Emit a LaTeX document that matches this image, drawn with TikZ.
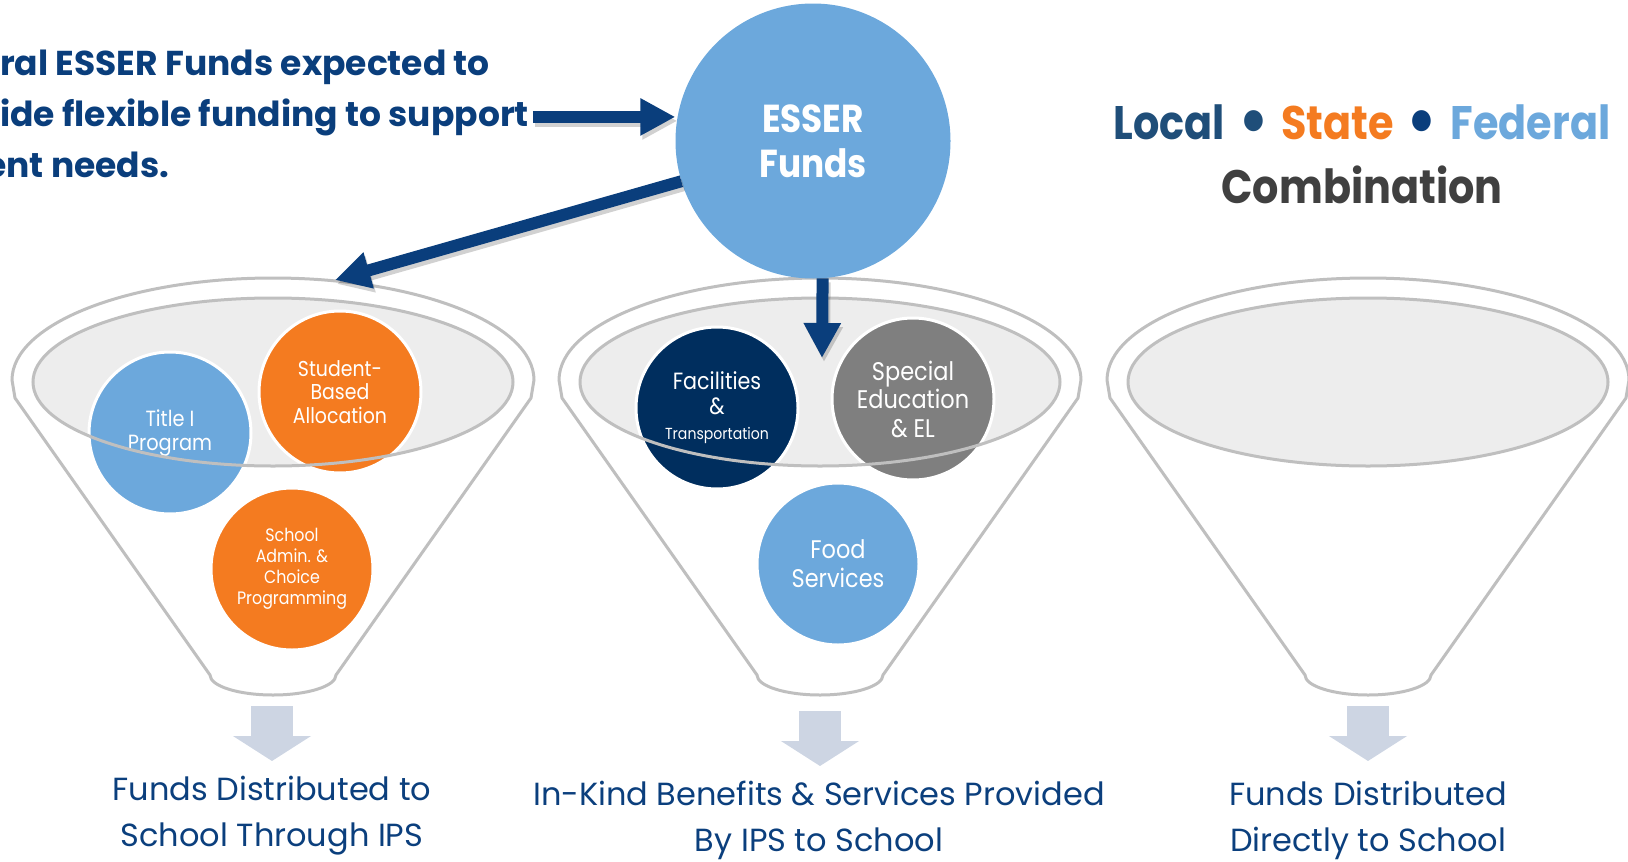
\documentclass[tikz,border=0pt]{standalone}
\usepackage{fontspec}
\setmainfont{Poppins}
\newfontfamily\headfont[FakeStretch=0.88]{Poppins}
\newfontfamily\bubfont[FakeStretch=0.88]{Poppins}
\usetikzlibrary{arrows.meta}
\definecolor{navy}{HTML}{0A3E7C}
\definecolor{txtnavy}{HTML}{0B3F7D}
\definecolor{orng}{HTML}{F47B20}
\definecolor{lblue}{HTML}{6CA8DC}
\definecolor{dnavy}{HTML}{002E5E}
\definecolor{cgray}{HTML}{7F7F7F}
\definecolor{fgray}{HTML}{BFBFBF}
\definecolor{ffill}{HTML}{EDEDED}
\definecolor{sarrow}{HTML}{CDD5E3}
\definecolor{locblue}{HTML}{1F4E79}
\definecolor{combgray}{HTML}{404040}
\newcommand{\bigbul}[1]{\makebox[17pt][c]{\raisebox{-5pt}{\textcolor{#1}{\fontsize{70}{70}\selectfont •}}}}
\tikzset{
  funnelline/.style={draw=fgray, line width=3pt},
  bubble/.style={circle, draw=white, line width=3pt, minimum size=162pt, inner sep=0pt, text=white, align=center},
  bigarrow/.style={draw=navy, line width=12pt, -{Triangle[length=35pt,width=35pt]}},
  arrowshadow/.style={draw=black, opacity=0.18, line width=12pt, -{Triangle[length=35pt,width=35pt]}, transform canvas={shift={(2pt,-4pt)}}},
  downarrow/.style={draw=sarrow, line width=42pt, -{Triangle[length=25pt,width=77pt]}},
  bottomlabel/.style={text=txtnavy, align=center, font=\fontsize{32}{46}\selectfont, inner sep=0pt},
  introtext/.style={anchor=base west, inner sep=0pt, text=navy, font=\bfseries\fontsize{34.5}{40}\selectfont},
}
\begin{document}
\begin{tikzpicture}[x=1pt,y=-1pt]
\useasboundingbox (0,0) rectangle (1628,862);
\clip (0,0) rectangle (1628,862);
% funnels
\foreach \c in {273,820,1368}{
  \draw[funnelline, fill=white] (\c-261,380) arc[start angle=180,end angle=360,x radius=261,y radius=102] -- (\c+258,398) -- (\c+63,675) arc[start angle=0,end angle=180,x radius=63,y radius=20] -- (\c-258,398) -- cycle;
  \fill[ffill] (\c,382) ellipse[x radius=240,y radius=84];
}
% bubbles
\node[bubble, fill=lblue, font=\bubfont\fontsize{22}{24}\selectfont] (title) at (170,433) {Title I\\Program};
\node[bubble, fill=orng, font=\bubfont\fontsize{21.5}{23.5}\selectfont] (sba) at (340,392) {Student-\\Based\\Allocation};
\node[bubble, fill=orng, font=\bubfont\fontsize{18}{21}\selectfont] (admin) at (292,569) {School\\Admin. \&\\Choice\\Programming};
\node[bubble, fill=dnavy, font=\bubfont\fontsize{23.5}{25}\selectfont] (fac) at (717,408) {Facilities\\\&\\{\fontsize{16}{17}\selectfont Transportation}};
\node[bubble, fill=cgray, font=\bubfont\fontsize{25.5}{28.5}\selectfont] (sped) at (913,399) {Special\\Education\\\& EL};
\node[bubble, fill=lblue, font=\bubfont\fontsize{25.5}{29}\selectfont] (food) at (838,564) {Food\\Services};
\foreach \c in {273,820,1368}{
  \draw[funnelline] (\c,382) ellipse[x radius=240,y radius=84];
}
% ESSER
\node[circle, fill=lblue, minimum size=275pt, inner sep=0pt, text=white, align=center, font=\headfont\bfseries\fontsize{39}{45}\selectfont] (esser) at (813,141) {ESSER\\Funds};
% intro text
\node[introtext] (in1) at (0,75) {ral ESSER Funds expected to};
\node[introtext] (in2) at (0,126) {ide flexible funding to support};
\node[introtext] (in3) at (-15,177) {ent needs.};
% arrows
\coordinate (lftin) at (335,280);
\coordinate (midin) at (822,358);
\draw[arrowshadow, shorten <=4pt] (in2.east) -- (in2.east -| esser.west);
\draw[bigarrow, shorten <=4pt] (in2.east) -- (in2.east -| esser.west);
\draw[arrowshadow] (esser.197) -- (lftin);
\draw[bigarrow] (esser.197) -- (lftin);
\draw[arrowshadow] (esser.-86) -- (midin);
\draw[bigarrow] (esser.-86) -- (midin);
% small arrows
\coordinate (s1) at (272,706); \coordinate (e1) at (272,761);
\coordinate (s2) at (820,711); \coordinate (e2) at (820,766);
\coordinate (s3) at (1368,706); \coordinate (e3) at (1368,761);
\draw[downarrow] (s1) -- (e1);
\draw[downarrow] (s2) -- (e2);
\draw[downarrow] (s3) -- (e3);
% labels
\node[bottomlabel] (lab1) at (272,816) {Funds Distributed to\\School Through IPS};
\node[bottomlabel] (lab2) at (819,820) {In-Kind Benefits \& Services Provided\\By IPS to School};
\node[bottomlabel] (lab3) at (1368,820) {Funds Distributed\\Directly to School};
% top right
\node[anchor=base, inner sep=0pt, font=\headfont\bfseries\fontsize{47}{50}\selectfont] (lsf) at (1362,139) {\textcolor{locblue}{Local}\hspace{20pt}\bigbul{locblue}\hspace{19pt}\textcolor{orng}{State}\hspace{20pt}\bigbul{navy}\hspace{20pt}\textcolor{lblue}{Federal}};
\node[anchor=base, inner sep=0pt, text=combgray, font=\headfont\bfseries\fontsize{47}{50}\selectfont] (comb) at (1362,203) {Combination};
\end{tikzpicture}
\end{document}
